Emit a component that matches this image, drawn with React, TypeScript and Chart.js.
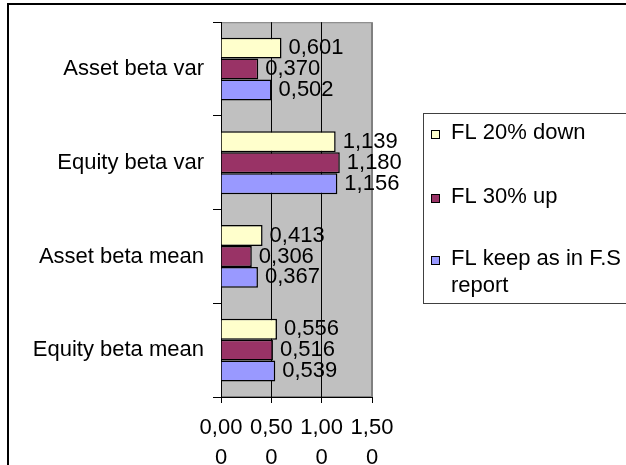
import React, { useEffect, useRef } from 'react';
import { Chart, registerables } from 'chart.js';

Chart.register(...registerables);

const categories = ['Asset beta var', 'Equity beta var', 'Asset beta mean', 'Equity beta mean'];
const seriesNames = ['FL 20% down', 'FL 30% up', 'FL keep as in F.S report'];
const fl20Down = [0.601, 1.139, 0.413, 0.556];
const fl30Up = [0.37, 1.18, 0.306, 0.516];
const flKeep = [0.502, 1.156, 0.367, 0.539];
const seriesColors = ['#FFFFCC', '#993366', '#9999FF'];
const xTickLabels = [['0,00', '0'], ['0,50', '0'], ['1,00', '0'], ['1,50', '0']];
const legendLines = [['FL 20% down'], ['FL 30% up'], ['FL keep as in F.S', 'report']];

const FONT = "'Liberation Sans', Arial, sans-serif";
const FS = 22;

const bgPlugin = {
  id: 'bgPlugin',
  beforeDraw(chart: any) {
    const { ctx, chartArea } = chart;
    ctx.save();
    ctx.fillStyle = '#FFFFFF';
    ctx.fillRect(0, 0, chart.width, chart.height);
    ctx.fillStyle = '#C0C0C0';
    ctx.fillRect(chartArea.left, chartArea.top, chartArea.right - chartArea.left, chartArea.bottom - chartArea.top);
    ctx.strokeStyle = '#808080';
    ctx.lineWidth = 1;
    ctx.strokeRect(chartArea.left + 0.5, chartArea.top + 0.5, chartArea.right - chartArea.left - 1, chartArea.bottom - chartArea.top - 1);
    ctx.restore();
  },
  afterDraw(chart: any) {
    const { ctx } = chart;
    ctx.save();
    // outer frame
    ctx.strokeStyle = '#000000';
    ctx.lineWidth = 2;
    ctx.strokeRect(8, 4, 700, 600);
    // legend box
    ctx.lineWidth = 1;
    ctx.strokeStyle = '#404040';
    ctx.strokeRect(423.5, 113.5, 300, 190);
    const ys = [133, 197, 259];
    ctx.font = `${FS}px ${FONT}`;
    ctx.textBaseline = 'middle';
    ctx.textAlign = 'left';
    chart.data.datasets.forEach((ds: any, i: number) => {
      const y = ys[i];
      ctx.fillStyle = ds.backgroundColor;
      ctx.fillRect(431, y - 3, 9, 9);
      ctx.strokeStyle = '#000000';
      ctx.strokeRect(431.5, y - 2.5, 8, 8);
      ctx.fillStyle = '#000000';
      legendLines[i].forEach((line, k) => {
        ctx.fillText(line, 451, y + k * 27);
      });
    });
    ctx.restore();
  },
  afterDatasetsDraw(chart: any) {
    const { ctx } = chart;
    ctx.save();
    ctx.font = `${FS}px ${FONT}`;
    ctx.textBaseline = 'middle';
    ctx.textAlign = 'left';
    ctx.fillStyle = '#000000';
    chart.data.datasets.forEach((ds: any, i: number) => {
      const meta = chart.getDatasetMeta(i);
      meta.data.forEach((bar: any, j: number) => {
        const v = ds.data[j] as number;
        ctx.fillText(v.toFixed(3).replace('.', ','), bar.x + 7, bar.y);
      });
    });
    ctx.restore();
  },
};

export default function App() {
  const ref = useRef<HTMLCanvasElement | null>(null);
  useEffect(() => {
    if (!ref.current) return;
    const chart = new Chart(ref.current, {
      type: 'bar',
      data: {
        labels: categories,
        datasets: [fl20Down, fl30Up, flKeep].map((d, i) => ({
          label: seriesNames[i],
          data: d,
          backgroundColor: seriesColors[i],
          borderColor: '#000000',
          borderWidth: 1.5,
          categoryPercentage: 0.67,
          barPercentage: 1.0,
        })),
      },
      options: {
        indexAxis: 'y',
        responsive: false,
        animation: false,
        layout: { padding: { top: 21, right: 254, left: 0, bottom: 0 } },
        plugins: { legend: { display: false }, tooltip: { enabled: false } },
        scales: {
          x: {
            min: 0,
            max: 1.5,
            afterFit: (s: any) => { s.height = 68; },
            ticks: {
              stepSize: 0.5,
              color: '#000000',
              font: { family: FONT, size: FS, lineHeight: '30px' },
              padding: 10,
              maxRotation: 0,
              autoSkip: false,
              callback: (_v: any, idx: number) => xTickLabels[idx],
            },
            grid: {
              color: (c: any) => (c.tick && c.tick.value === 1.5 ? '#808080' : '#000000'),
              tickColor: '#000000',
              tickLength: 6,
              lineWidth: 1,
            },
            border: { display: true, color: '#000000', width: 1 },
          },
          y: {
            afterFit: (s: any) => { s.width = 221; },
            ticks: {
              color: '#000000',
              font: { family: FONT, size: FS },
              padding: 9,
            },
            grid: {
              offset: true,
              drawOnChartArea: false,
              tickLength: 8,
              tickColor: '#000000',
            },
            border: { display: true, color: '#000000', width: 1 },
          },
        },
      },
      plugins: [bgPlugin],
    } as any);
    return () => chart.destroy();
  }, []);
  return (
    <div style={{ position: 'absolute', left: 0, top: 0, width: 626, height: 465, background: '#fff' }}>
      <canvas ref={ref} width={626} height={465} style={{ display: 'block' }} />
    </div>
  );
}
